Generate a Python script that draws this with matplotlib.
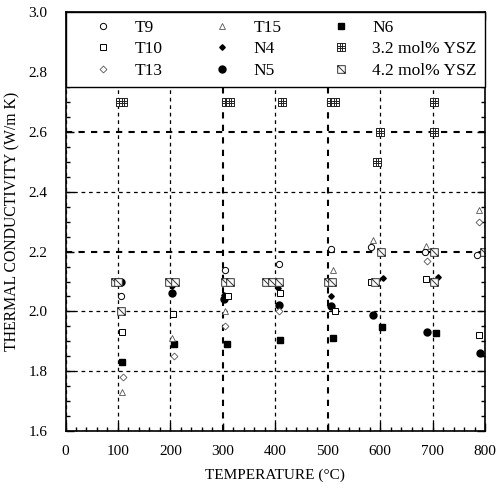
import matplotlib
matplotlib.use('Agg')
import matplotlib.pyplot as plt
from matplotlib.path import Path
from matplotlib.ticker import MultipleLocator

plt.rcParams['font.family'] = ['Liberation Serif', 'DejaVu Serif']

# values (temperature in C, conductivity in W/m K)
t9_temp = [105, 305, 407, 506, 582, 686, 785]
t9_k = [2.05, 2.14, 2.16, 2.21, 2.215, 2.20, 2.19]

t10_temp = [107, 205, 310, 410, 513, 582, 688, 788]
t10_k = [1.93, 1.99, 2.05, 2.06, 2.00, 2.10, 2.11, 1.92]

t13_temp = [109, 206, 305, 408, 689, 789]
t13_k = [1.78, 1.85, 1.95, 2.00, 2.17, 2.30]

t15_temp = [107, 203, 305, 510, 586, 688, 788]
t15_k = [1.73, 1.91, 2.00, 2.14, 2.24, 2.22, 2.34]

n4_temp = [203, 303, 406, 506, 605, 710]
n4_k = [2.085, 2.055, 2.08, 2.053, 2.113, 2.115]

n5_temp = [106, 203, 302, 407, 506, 587, 690, 791]
n5_k = [2.10, 2.06, 2.04, 2.023, 2.018, 1.987, 1.931, 1.86]

n6_temp = [108, 207, 308, 410, 510, 604, 707]
n6_k = [1.83, 1.89, 1.89, 1.906, 1.913, 1.948, 1.929]

ysz32_temp = [104, 110, 306, 313, 412, 507, 514, 594, 600, 702, 702]
ysz32_k = [2.70, 2.70, 2.70, 2.70, 2.70, 2.70, 2.70, 2.50, 2.60, 2.70, 2.60]

ysz42_temp = [95, 100, 106, 197, 208, 304, 313, 382, 394, 407, 500, 509, 590, 601, 702, 703, 799]
ysz42_k = [2.10, 2.10, 2.00, 2.10, 2.10, 2.10, 2.10, 2.10, 2.10, 2.10, 2.10, 2.10, 2.10, 2.20, 2.10, 2.20, 2.20]

# custom square markers
M, L, C = Path.MOVETO, Path.LINETO, Path.CLOSEPOLY
sq = [(-1, -1), (1, -1), (1, 1), (-1, 1), (-1, -1)]
sq_codes = [M, L, L, L, C]
diag_marker = Path(sq + [(-1, 1), (1, -1)], sq_codes + [M, L])
a = 1 / 3
grid_marker = Path(sq + [(-a, -1), (-a, 1), (a, -1), (a, 1), (-1, -a), (1, -a), (-1, a), (1, a)],
                   sq_codes + [M, L, M, L, M, L, M, L])

fig = plt.figure(figsize=(5.0, 4.88), dpi=100)
ax = fig.add_axes([0.131, 0.116, 0.839, 0.860])

h_n6, = ax.plot(n6_temp, n6_k, 's', color='black', ms=5, ls='none', label='N6')
h_n5, = ax.plot(n5_temp, n5_k, 'o', color='black', ms=5, ls='none', label='N5')
h_n4, = ax.plot(n4_temp, n4_k, 'D', color='black', ms=2.8, ls='none', label='N4')
h_t15, = ax.plot(t15_temp, t15_k, '^', mfc='white', mec='#555555', mew=0.6, ms=4.5, ls='none', label='T15')
h_t13, = ax.plot(t13_temp, t13_k, 'D', mfc='white', mec='#555555', mew=0.6, ms=3.5, ls='none', label='T13')
h_t10, = ax.plot(t10_temp, t10_k, 's', mfc='white', mec='black', mew=0.7, ms=4.5, ls='none', label='T10')
h_t9, = ax.plot(t9_temp, t9_k, 'o', mfc='white', mec='black', mew=0.7, ms=4.5, ls='none', label='T9')
h_32, = ax.plot(ysz32_temp, ysz32_k, marker=grid_marker, mfc='white', mec='#222222', mew=0.7, ms=5.5,
                ls='none', label='3.2 mol% YSZ')
h_42, = ax.plot(ysz42_temp, ysz42_k, marker=diag_marker, mfc='white', mec='#333333', mew=0.7, ms=5.5,
                ls='none', label='4.2 mol% YSZ')

ax.set_xlim(0, 800)
ax.set_ylim(1.6, 3.0)
ax.xaxis.set_major_locator(MultipleLocator(100))
ax.xaxis.set_minor_locator(MultipleLocator(20))
ax.yaxis.set_major_locator(MultipleLocator(0.2))
ax.yaxis.set_minor_locator(MultipleLocator(0.05))
ax.yaxis.set_major_formatter(matplotlib.ticker.FormatStrFormatter('%.1f'))
ax.tick_params(which='both', direction='in', top=True, right=True, labelsize=11, width=1)
ax.tick_params(which='major', length=6)
ax.tick_params(which='minor', length=3)
ax.tick_params(axis='x', which='major', pad=9.5)
ax.tick_params(axis='y', which='major', pad=13)
for s in ax.spines.values():
    s.set_linewidth(1.2)

ax.grid(True, which='major', color='black', linestyle=(0, (3, 3)), linewidth=0.9)
for val, line in zip(ax.get_xticks(), ax.get_xgridlines()):
    if round(val) in (300, 500):
        line.set_linewidth(1.5)
for val, line in zip(ax.get_yticks(), ax.get_ygridlines()):
    if round(val, 1) in (2.2, 2.6):
        line.set_linewidth(1.5)

ax.set_xlabel('TEMPERATURE (°C)', fontsize=11, labelpad=8)
ax.set_ylabel('THERMAL CONDUCTIVITY (W/m K)', fontsize=11.3, labelpad=6)

handles = [h_t9, h_t10, h_t13, h_t15, h_n4, h_n5, h_n6, h_32, h_42]
leg = ax.legend(handles=handles, ncol=3, loc='upper left', mode='expand',
                bbox_to_anchor=(0, 0.82, 1, 0.18), fontsize=12.5, frameon=True,
                fancybox=False, borderaxespad=0, handletextpad=0.1, handlelength=3.4,
                labelspacing=0.3, borderpad=0.47, columnspacing=1.0)
leg.get_frame().set_edgecolor('black')
leg.get_frame().set_linewidth(1.0)
leg.get_frame().set_alpha(1)

fig.savefig('out.png', dpi=100)
